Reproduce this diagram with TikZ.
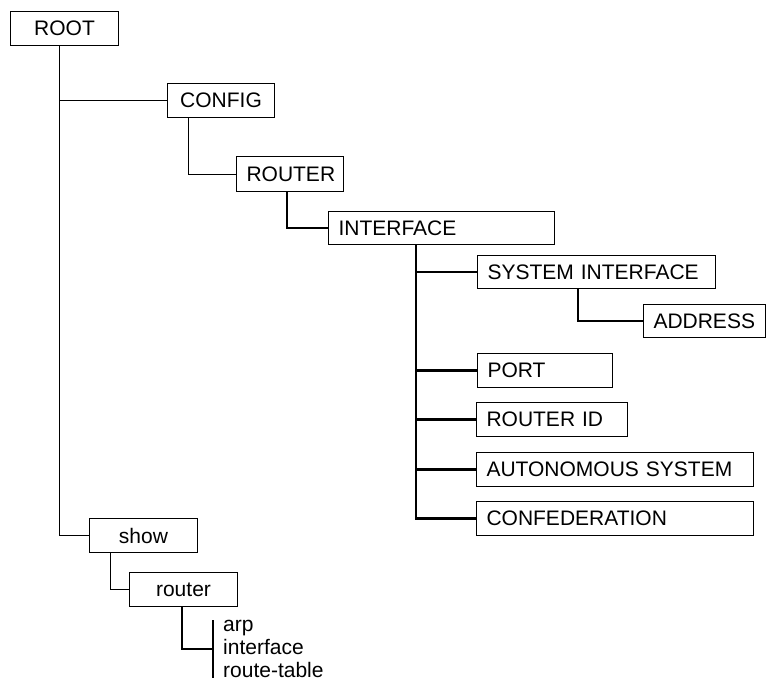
\documentclass[tikz,border=0pt]{standalone}
\usepackage{fontspec}
\setmainfont{Liberation Sans}
\usetikzlibrary{positioning}

\tikzset{
  cmd/.style={draw, rectangle, line width=1pt, anchor=north west,
    minimum height=34pt, inner xsep=10pt, inner ysep=0pt,
    font=\fontsize{21}{23}\selectfont},
  cmdc/.style={cmd, align=center},
  cmdl/.style={cmd, align=left},
  thin link/.style={line width=1pt},
  thick link/.style={line width=2.3pt}
}

\begin{document}
\begin{tikzpicture}[x=1pt,y=-1pt]
\useasboundingbox (0,0) rectangle (766,681);
% command boxes
\node[cmdc, text width=88pt] (root) at (10,11) {ROOT};
\node[cmdc, text width=87pt] (config) at (167,83) {CONFIG};
\node[cmdc, text width=87pt, minimum height=35pt] (router) at (236,156) {ROUTER};
\node[cmdl, text width=206pt, minimum height=33pt] (iface) at (328,211) {INTERFACE};
\node[cmdl, text width=218pt, minimum height=33pt] (sysif) at (477,255) {SYSTEM INTERFACE};
\node[cmdl, text width=102pt, minimum height=33pt] (addr) at (643,304) {ADDRESS};
\node[cmdl, text width=115pt] (port) at (477,353) {PORT};
\node[cmdl, text width=131pt] (rtrid) at (476,402) {ROUTER ID};
\node[cmdl, text width=257pt] (asys) at (476,452) {AUTONOMOUS SYSTEM};
\node[cmdl, text width=257pt] (confed) at (476,501) {CONFEDERATION};
\node[cmdc, text width=88pt] (show) at (89,518) {show};
\node[cmdc, text width=88pt] (showrtr) at (129,572) {router};
\node[align=left, anchor=west, inner xsep=10pt, inner ysep=0pt,
  font=\fontsize{21}{23}\selectfont] (opts) at (213,649) {arp\\interface\\route-table};

% tree links
\draw[thin link] ([xshift=49pt]root.south west) |- (config.west);
\draw[thin link] ([xshift=49pt]root.south west) |- (show.west);
\draw[thin link] ([xshift=21pt]config.south west) |- (router.west);
\draw[thick link] ([xshift=51pt]router.south west) |- (iface.west);
\foreach \n in {sysif,port,rtrid,asys,confed}
  \draw[thick link] ([xshift=88pt]iface.south west) |- (\n.west);
\draw[thick link] ([xshift=101pt]sysif.south west) |- (addr.west);
\draw[thin link] ([xshift=21pt]show.south west) |- (showrtr.west);
\draw[thick link] ([xshift=53pt]showrtr.south west) |- (opts.west);
\draw[thick link] (opts.north west) -- (opts.south west);
\end{tikzpicture}
\end{document}
